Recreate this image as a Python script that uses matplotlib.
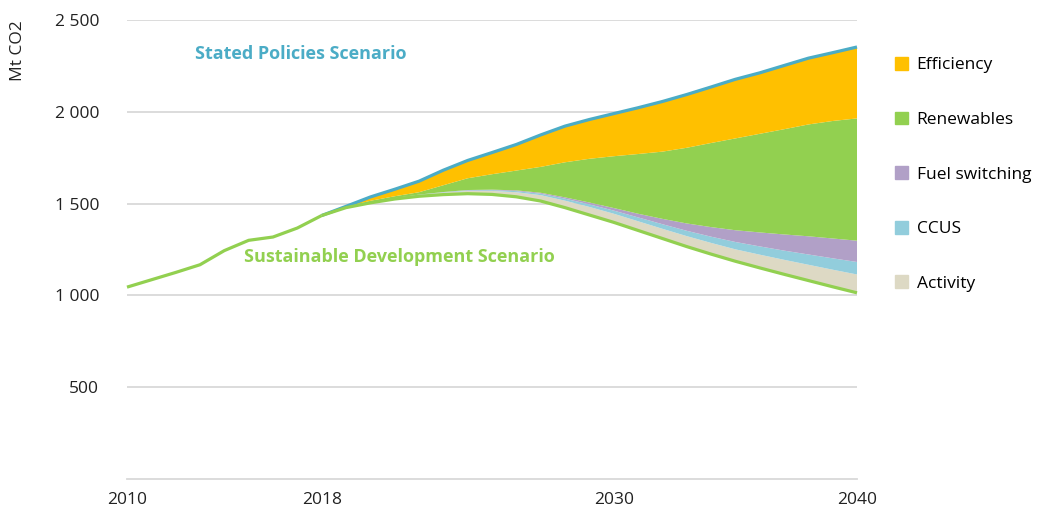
import numpy as np
import matplotlib
matplotlib.use("Agg")
import matplotlib.pyplot as plt
from matplotlib.patches import Patch

plt.rcParams["font.family"] = ["Open Sans", "DejaVu Sans"]

# historical emissions 2010-2018
years_hist = list(range(2010, 2019))
hist = [1045, 1085, 1125, 1167, 1244, 1300, 1318, 1367, 1435]

# projections 2018-2040
years_proj = list(range(2018, 2041))
sds = [1435, 1478, 1504, 1525, 1540, 1549, 1554, 1550, 1537, 1514, 1478, 1438,
       1398, 1354, 1310, 1266, 1225, 1186, 1150, 1115, 1081, 1047, 1014]
activity = [0, 0, 2, 4, 7, 11, 15, 19, 25, 32, 38, 44,
            47, 50, 53, 57, 61, 65, 72, 79, 86, 93, 100]
ccus = [0, 0, 0, 1, 1, 2, 3, 4, 6, 8, 11, 14,
        17, 21, 25, 29, 34, 40, 45, 50, 56, 62, 68]
fuel_switching = [0, 0, 0, 0, 1, 1, 2, 3, 4, 5, 7, 10,
                  14, 20, 29, 40, 52, 64, 76, 88, 99, 108, 116]
renewables = [0, 4, 9, 10, 13, 37, 64, 84, 108, 141, 191, 238,
              282, 325, 366, 412, 458, 500, 537, 573, 609, 640, 666]
efficiency = [0, 3, 21, 38, 60, 82, 97, 118, 142, 174, 197, 214,
              232, 252, 273, 290, 305, 322, 332, 347, 361, 372, 389]

labels = ["Activity", "CCUS", "Fuel switching", "Renewables", "Efficiency"]
colors = ["#DDD9C4", "#92CDDC", "#B1A0C7", "#92D050", "#FFC000"]
blue = "#4BACC6"
green = "#92D050"

fig = plt.figure(figsize=(10.38, 5.08), dpi=100)
ax = fig.add_axes([127 / 1038, 29 / 508, 730 / 1038, 459 / 508])

wedges = [activity, ccus, fuel_switching, renewables, efficiency]
ax.stackplot(years_proj, sds, *wedges, colors=["none"] + colors, linewidth=0)
steps = np.array(sds) + np.sum(np.array(wedges), axis=0)

ax.plot(years_proj, steps, color=blue, lw=2.3, solid_capstyle="butt", clip_on=False)
ax.plot(years_proj, sds, color=green, lw=2.3, solid_capstyle="butt", clip_on=False)
ax.plot(years_hist, hist, color=green, lw=2.3, solid_capstyle="butt", clip_on=False)

ax.set_xlim(2010, 2040)
ax.set_ylim(0, 2500)
ax.set_xticks([2010, 2018, 2030, 2040])
ax.set_yticks([500, 1000, 1500, 2000, 2500])
ax.set_yticklabels(["500", "1 000", "1 500", "2 000", "2 500"])
ax.grid(axis="y", color="#D9D9D9", lw=1.3)
ax.set_axisbelow(True)
for s in ["top", "right", "left"]:
    ax.spines[s].set_visible(False)
ax.spines["bottom"].set_color("#D9D9D9")
ax.spines["bottom"].set_linewidth(1.3)
ax.tick_params(axis="both", length=0, labelsize=12.5, colors="#222222")
ax.tick_params(axis="y", pad=20)
ax.tick_params(axis="x", pad=9)

fig.text(18 / 1038, 1 - 20 / 508, "Mt CO2", rotation=90, ha="center", va="top",
         fontsize=12.5, color="#222222")

ax.text(2017.15, 2313, "Stated Policies Scenario", color=blue, fontsize=13,
        fontweight="bold", ha="center", va="center")
ax.text(2021.2, 1211, "Sustainable Development Scenario", color=green, fontsize=13,
        fontweight="bold", ha="center", va="center")

handles = [Patch(color=c, label=l) for c, l in zip(colors[::-1], labels[::-1])]
fig.legend(handles=handles, loc="upper left", bbox_to_anchor=(895 / 1038, 1 - 57 / 508),
           frameon=False, fontsize=12.5, labelspacing=2.2, handlelength=0.75,
           handleheight=0.75, handletextpad=0.5, borderaxespad=0, borderpad=0)

fig.savefig("out.png", dpi=100)
